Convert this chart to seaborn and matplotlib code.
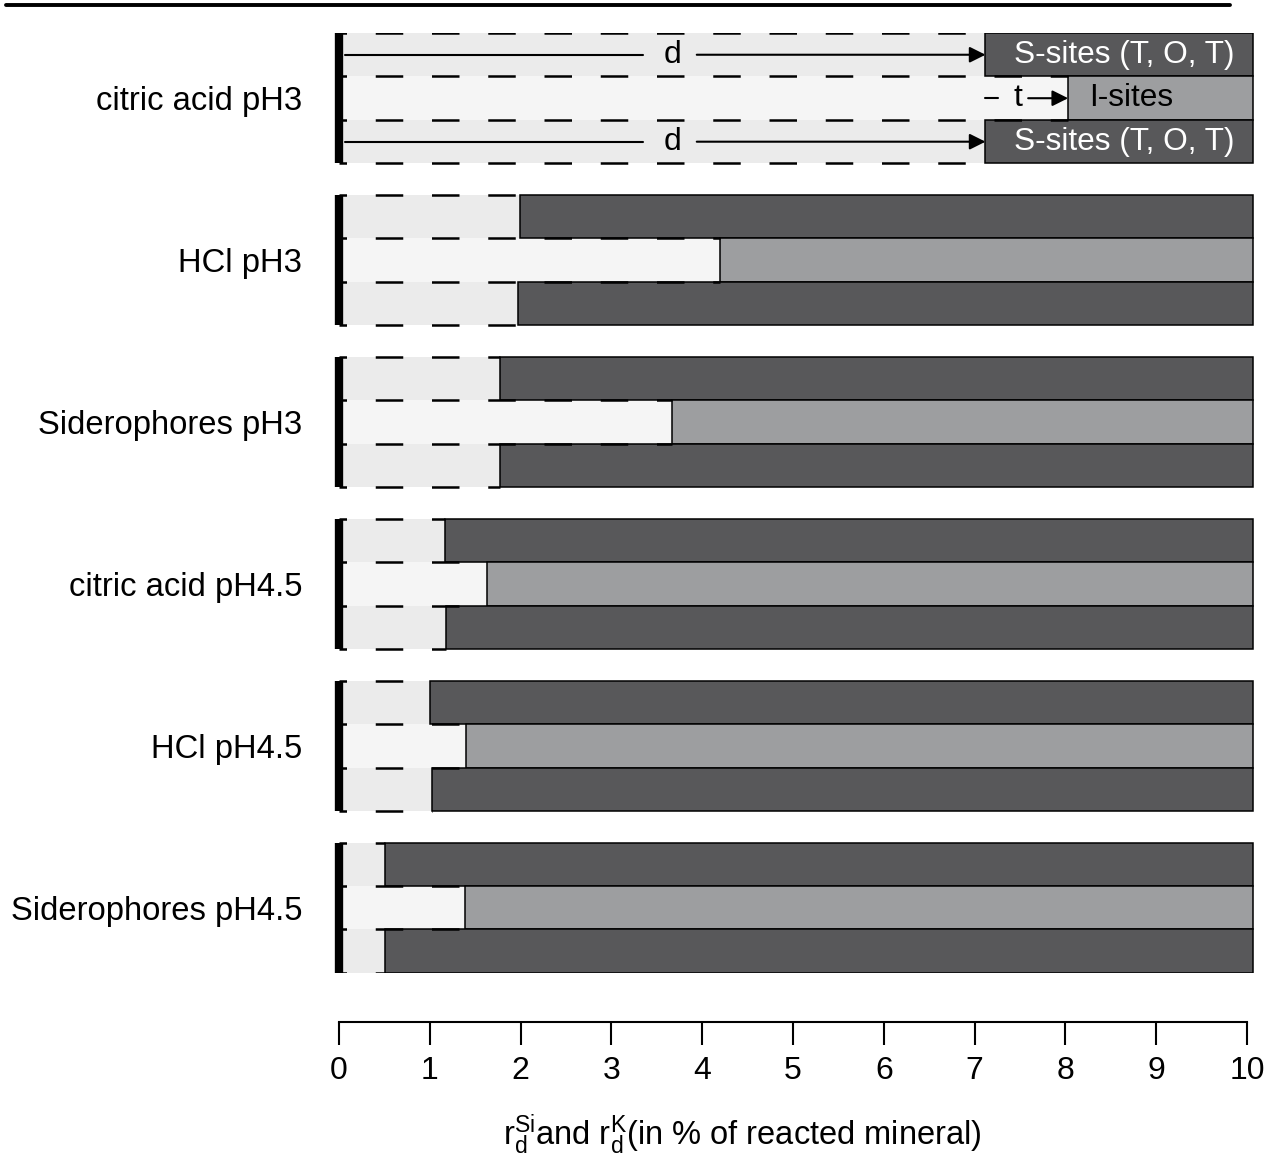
import numpy as np
import pandas as pd
import matplotlib.pyplot as plt
from matplotlib.lines import Line2D
import seaborn as sns

# values (in % of reacted mineral)
conditions = ['citric acid pH3', 'HCl pH3', 'Siderophores pH3',
              'citric acid pH4.5', 'HCl pH4.5', 'Siderophores pH4.5']
d_top = [7.12, 1.99, 1.77, 1.17, 1.00, 0.51]   # S-sites, upper row
t_mid = [8.03, 4.20, 3.67, 1.63, 1.40, 1.39]   # I-sites, middle row
d_bot = [7.12, 1.97, 1.77, 1.18, 1.02, 0.51]   # S-sites, lower row
x_end = 10.07
xticks = list(range(11))

group_step = 3.724   # row = 1 unit, gap between groups

rows = []
for g, name in enumerate(conditions):
    for k, (site, start) in enumerate([('S', d_top[g]), ('I', t_mid[g]), ('S', d_bot[g])]):
        rows.append({'condition': name, 'site': site, 'pos': g * group_step + k, 'start': start})
df = pd.DataFrame(rows).sort_values('pos').reset_index(drop=True)
df['rest'] = x_end - df['start']

light = {'S': '#ebebeb', 'I': '#f5f5f5'}
dark = {'S': '#58585a', 'I': '#9d9ea0'}

sns.set_style('white')
plt.rcParams['font.family'] = ['Liberation Sans', 'DejaVu Sans']
plt.rcParams['mathtext.fontset'] = 'custom'
plt.rcParams['mathtext.rm'] = 'Liberation Sans'
plt.rcParams['mathtext.it'] = 'Liberation Sans:italic'
for k in ['text.color', 'axes.labelcolor', 'xtick.color', 'ytick.color']:
    plt.rcParams[k] = 'black'

fig = plt.figure(figsize=(12.8, 11.58), dpi=100)
ax = fig.add_axes([0.2606, 0.1598, 0.7207, 0.8117])

# light part (0 -> d or t)
sns.barplot(data=df, x='start', y='pos', orient='h', native_scale=True, width=1,
            errorbar=None, facecolor=df['site'].map(light).tolist(),
            linewidth=0, zorder=1, ax=ax)
# reacted sites part (d or t -> end)
ax.barh(df['pos'], df['rest'], left=df['start'], height=1,
        color=df['site'].map(dark).tolist(), edgecolor='black', linewidth=1.1, zorder=2)

dash = (8, (11, 11.5))
for g in range(len(conditions)):
    top = g * group_step
    ax.hlines([top - 0.5, top + 0.5, top + 1.5, top + 2.5], 0,
              [d_top[g], t_mid[g], t_mid[g], d_bot[g]],
              colors='black', linewidth=1.8, linestyles=[dash], zorder=3)
    ax.vlines(0, top - 0.5, top + 2.5, colors='black', linewidth=6, zorder=4)

# annotations in first group
arr = dict(arrowstyle='-|>', color='black', lw=1.5, mutation_scale=24, shrinkA=0, shrinkB=0)
for y, d in [(0, d_top[0]), (2, d_bot[0])]:
    ax.plot([0.07, 3.35], [y, y], color='black', lw=1.5, zorder=3)
    ax.annotate('', xy=(d, y), xytext=(3.94, y), arrowprops=arr, zorder=3)
    ax.text(3.67, y, 'd', ha='center', va='center', fontsize=23, zorder=3)
    ax.text(8.65, y, 'S-sites (T, O, T)', ha='center', va='center', fontsize=22.8,
            color='white', zorder=3)
ax.plot([d_top[0], 7.26], [1, 1], color='black', lw=1.5, zorder=3)
ax.annotate('', xy=(t_mid[0], 1), xytext=(7.59, 1), arrowprops=arr, zorder=3)
ax.text(7.48, 1, 't', ha='center', va='center', fontsize=23, zorder=3)
ax.text(8.73, 1, 'I-sites', ha='center', va='center', fontsize=22.8, zorder=3)

ax.set_xlim(-0.06, 10.1)
ax.set_ylim(5 * group_step + 2.5, -0.5)

ax.set_yticks([g * group_step + 1 for g in range(len(conditions))])
ax.set_yticklabels(conditions)
ax.set_ylabel('')
ax.tick_params(axis='y', length=0, pad=22.5, labelsize=23.6)

ax.set_xticks(xticks)
ax.set_xticklabels([str(v) for v in xticks])
ax.tick_params(axis='x', direction='out', length=16.5, width=1.5, labelsize=23, pad=8,
               bottom=True, color='black')
ax.set_xlabel(r'$\mathrm{r}_\mathrm{d}^\mathrm{Si}$and $\mathrm{r}_\mathrm{d}^\mathrm{K}$(in % of reacted mineral)',
              fontsize=23.5, x=0.443, labelpad=18.5)

for s in ['left', 'top', 'right']:
    ax.spines[s].set_visible(False)
ax.spines['bottom'].set_position(('outward', 35.3))
ax.spines['bottom'].set_bounds(0, 10)
ax.spines['bottom'].set_linewidth(1.5)
ax.spines['bottom'].set_color('black')

fig.add_artist(Line2D([0.005, 0.961], [0.9955, 0.9955], transform=fig.transFigure,
                      color='black', lw=2.8))

fig.savefig('out.png', dpi=100)
